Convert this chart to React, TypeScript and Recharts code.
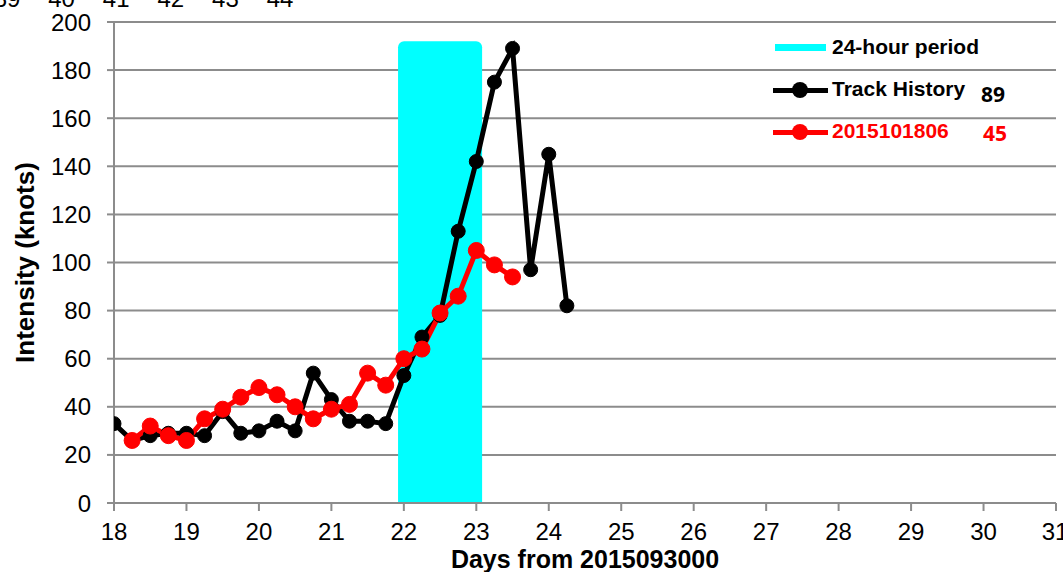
import React from "react";
import {
  LineChart,
  Line,
  XAxis,
  YAxis,
  CartesianGrid,
  ReferenceArea,
  Rectangle,
} from "recharts";

// track history, every 6 h from day 18
const trackDays = [
  18, 18.25, 18.5, 18.75, 19, 19.25, 19.5, 19.75, 20, 20.25, 20.5, 20.75, 21,
  21.25, 21.5, 21.75, 22, 22.25, 22.5, 22.75, 23, 23.25, 23.5, 23.75, 24, 24.25,
];
const trackKnots = [
  33, 26, 28, 29, 29, 28, 38, 29, 30, 34, 30, 54, 43, 34, 34, 33, 53, 69, 78,
  113, 142, 175, 189, 97, 145, 82,
];

// forecast 2015101806
const fcstDays = [
  18.25, 18.5, 18.75, 19, 19.25, 19.5, 19.75, 20, 20.25, 20.5, 20.75, 21, 21.25,
  21.5, 21.75, 22, 22.25, 22.5, 22.75, 23, 23.25, 23.5,
];
const fcstKnots = [
  26, 32, 28, 26, 35, 39, 44, 48, 45, 40, 35, 39, 41, 54, 49, 60, 64, 79, 86,
  105, 99, 94,
];

const periodStart = 21.92;
const periodEnd = 23.08;
const periodTop = 192;

const xTicks = [18, 19, 20, 21, 22, 23, 24, 25, 26, 27, 28, 29, 30, 31];
const yTicks = [0, 20, 40, 60, 80, 100, 120, 140, 160, 180, 200];
const topLabels = ["39", "40", "41", "42", "43", "44"];

const trackData = trackDays.map((d, i) => ({ d, v: trackKnots[i] }));
const fcstData = fcstDays.map((d, i) => ({ d, v: fcstKnots[i] }));

const FONT = "'Liberation Sans', Arial, sans-serif";
const NUMFONT = "'Open Sans', sans-serif";

function XTick(props: any) {
  const { x, y, payload } = props;
  return (
    <text
      x={x}
      y={y + 10}
      dy="0.71em"
      textAnchor="middle"
      fill="#000"
      fontSize={24}
      fontFamily={FONT}
    >
      {payload.value}
    </text>
  );
}

export default function App() {
  return (
    <div
      style={{
        position: "absolute",
        left: 0,
        top: 0,
        width: 1063,
        height: 572,
        background: "#fff",
        overflow: "hidden",
        fontFamily: FONT,
      }}
    >
      <LineChart
        width={1063}
        height={572}
        margin={{ top: 22, right: 7, bottom: 0, left: 0 }}
      >
        <CartesianGrid vertical={false} stroke="#8c8c8c" strokeWidth={2} />
        <XAxis
          type="number"
          dataKey="d"
          domain={[18, 31]}
          ticks={xTicks}
          allowDataOverflow
          height={69}
          stroke="#8c8c8c"
          strokeWidth={2}
          tickSize={8}
          tick={<XTick />}
          label={{
            value: "Days from 2015093000",
            position: "insideBottom",
            offset: 4,
            style: { fill: "#000", fontSize: 25, fontWeight: "bold", fontFamily: FONT },
          }}
        />
        <YAxis
          type="number"
          domain={[0, 200]}
          ticks={yTicks}
          width={114}
          stroke="#8c8c8c"
          strokeWidth={2}
          tickSize={7}
          tickMargin={16}
          tick={{ fill: "#000", fontSize: 24, fontFamily: FONT }}
          label={{
            value: "Intensity (knots)",
            angle: -90,
            position: "insideLeft",
            offset: 25,
            style: {
              fill: "#000",
              fontSize: 26,
              fontWeight: "bold",
              fontFamily: FONT,
              textAnchor: "middle",
            },
          }}
        />
        <ReferenceArea
          x1={periodStart}
          x2={periodEnd}
          y1={0}
          y2={periodTop}
          fill="#00ffff"
          fillOpacity={1}
          stroke="none"
          shape={(p: any) => <Rectangle {...p} radius={[6, 6, 0, 0]} />}
        />
        <Line
          data={trackData}
          dataKey="v"
          stroke="#000"
          strokeWidth={5}
          dot={{ r: 7, fill: "#000", stroke: "#000", strokeWidth: 1 }}
          isAnimationActive={false}
        />
        <Line
          data={fcstData}
          dataKey="v"
          stroke="#ff0000"
          strokeWidth={5}
          dot={{ r: 8, fill: "#ff0000", stroke: "#ff0000", strokeWidth: 1 }}
          isAnimationActive={false}
        />
      </LineChart>

      {/* cut-off numbers at the top */}
      {topLabels.map((t, i) => (
        <div
          key={t}
          style={{
            position: "absolute",
            left: 7 + i * 54.6 - 20,
            width: 40,
            textAlign: "center",
            top: -15,
            fontSize: 24,
            color: "#000",
          }}
        >
          {t}
        </div>
      ))}

      {/* legend */}
      <div style={{ position: "absolute", left: 775, top: 44, width: 51, height: 7, background: "#00ffff" }} />
      <div style={{ position: "absolute", left: 832, top: 35, fontSize: 21, fontWeight: "bold" }}>
        24-hour period
      </div>

      <div style={{ position: "absolute", left: 773, top: 88, width: 55, height: 5, background: "#000" }} />
      <div style={{ position: "absolute", left: 792, top: 82, width: 16, height: 16, borderRadius: 8, background: "#000" }} />
      <div style={{ position: "absolute", left: 832, top: 77, fontSize: 21, fontWeight: "bold" }}>
        Track History
      </div>
      <div style={{ position: "absolute", left: 981, top: 80, fontSize: 21, fontWeight: "bold", fontFamily: NUMFONT }}>
        89
      </div>

      <div style={{ position: "absolute", left: 773, top: 130, width: 55, height: 5, background: "#ff0000" }} />
      <div style={{ position: "absolute", left: 792, top: 124, width: 16, height: 16, borderRadius: 8, background: "#ff0000" }} />
      <div style={{ position: "absolute", left: 832, top: 119, fontSize: 21, fontWeight: "bold", color: "#ff0000" }}>
        2015101806
      </div>
      <div style={{ position: "absolute", left: 983, top: 119, fontSize: 21, fontWeight: "bold", color: "#ff0000", fontFamily: NUMFONT }}>
        45
      </div>
    </div>
  );
}
